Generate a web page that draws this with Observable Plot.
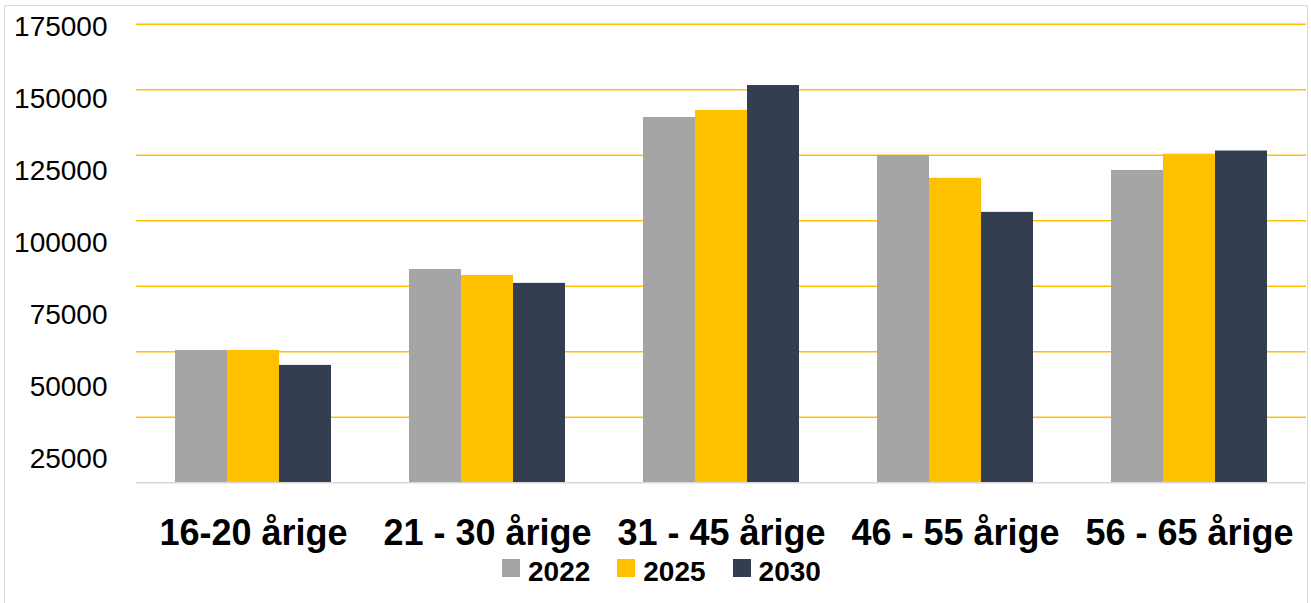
<!DOCTYPE html>
<html><head><meta charset="utf-8">
<script src="https://cdn.jsdelivr.net/npm/d3@7"></script>
<script src="https://cdn.jsdelivr.net/npm/@observablehq/plot@0.6"></script>
<style>
body{margin:0;background:#fff;font-family:"Liberation Sans",Arial,sans-serif;}
#wrap{position:relative;width:1311px;height:603px;overflow:hidden;background:#fff;}
#frame{position:absolute;left:4px;top:5px;width:1304px;height:640px;border:1.5px solid #d9d9d9;box-sizing:border-box;}
#ylab,#main{position:absolute;left:0;top:0;}
#legend{position:absolute;left:502px;top:558px;display:flex;align-items:flex-start;font-size:28px;line-height:28px;font-weight:bold;color:#000;}
#legend .item{display:flex;align-items:flex-start;margin-right:27px;}
#legend .sw{width:18px;height:18px;margin-top:1px;margin-right:8px;}
</style>
</head><body>
<div id="wrap"><div id="frame"></div><div id="ylab"></div><div id="main"></div><div id="legend"></div></div>
<script>
const categories = ["16-20 årige", "21 - 30 årige", "31 - 45 årige", "46 - 55 årige", "56 - 65 årige"];
const years = ["2022", "2025", "2030"];
const v2022 = [50500, 81400, 139400, 124900, 119200];
const v2025 = [50500, 79100, 142100, 116200, 125400];
const v2030 = [44800, 76100, 151600, 103200, 126600];
const yTicks = [25000, 50000, 75000, 100000, 125000, 150000, 175000];
const colors = ["#A5A5A5", "#FFC000", "#333F50"];

const series = [v2022, v2025, v2030];
const rows = categories.flatMap((c, i) => years.map((yr, j) => ({category: c, year: yr, value: series[j][i]})));

const main = Plot.plot({
  width: 1311, height: 555,
  marginLeft: 135, marginRight: 4, marginTop: 23.7, marginBottom: 72.7,
  style: {background: "transparent", overflow: "visible", fontFamily: "Liberation Sans, Arial, sans-serif", color: "#000"},
  fx: {domain: categories, padding: 0, label: null},
  x: {domain: years, paddingInner: 0, paddingOuter: 0.75, axis: null},
  y: {domain: [0, 175000], axis: null},
  color: {domain: years, range: colors},
  marks: [
    Plot.ruleY(yTicks, {stroke: "#FFC000", strokeWidth: 1.5}),
    Plot.barY(rows, {fx: "category", x: "year", y: "value", fill: "year"}),
    Plot.ruleY([0], {stroke: "#D9D9D9", strokeWidth: 1.5}),
    Plot.axisFx({anchor: "bottom", tickSize: 0, tickPadding: 37, fontSize: 36, fontWeight: "bold", label: null, fill: "#000"})
  ]
});
document.getElementById("main").appendChild(main);

const ylab = Plot.plot({
  width: 136, height: 555,
  marginLeft: 107, marginRight: 29, marginTop: 0, marginBottom: 0,
  style: {background: "transparent", overflow: "visible", fontFamily: "Liberation Sans, Arial, sans-serif", color: "#000"},
  y: {domain: [0, 175000], range: [531, 27]},
  marks: [
    Plot.axisY(yTicks, {anchor: "left", tickSize: 0, tickPadding: 0, fontSize: 28, label: null, tickFormat: d => String(d), fill: "#000"})
  ]
});
document.getElementById("ylab").appendChild(ylab);

const legend = document.getElementById("legend");
years.forEach((yr, j) => {
  const it = document.createElement("div");
  it.className = "item";
  const sw = document.createElement("div");
  sw.className = "sw";
  sw.style.background = colors[j];
  const tx = document.createElement("span");
  tx.textContent = yr;
  it.appendChild(sw); it.appendChild(tx);
  legend.appendChild(it);
});
</script>
</body></html>
